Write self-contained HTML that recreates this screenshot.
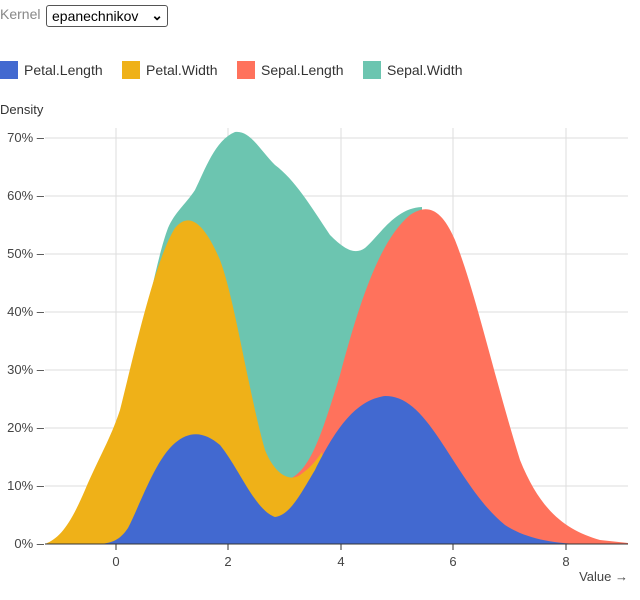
<!DOCTYPE html>
<html><head><style>
body{margin:0;width:640px;height:600px;background:#fff;font-family:"Liberation Sans",sans-serif;overflow:hidden;position:relative}
.k{position:absolute;left:0;top:6px;font-size:14px;color:#888}
.sel{position:absolute;left:46px;top:5px;width:122px;height:22px;border:1px solid #555;border-radius:3px;font-size:14px;color:#000;box-sizing:border-box;padding:2px 5px}
.lg{position:absolute;top:61px;font-size:14px;color:#333}
.lg span{display:inline-block;width:18px;height:18px;vertical-align:-4px;margin-right:6px}
</style></head><body>
<div class="k">Kernel</div>
<div class="sel">epanechnikov <span style="position:absolute;right:4px;top:1px;font-weight:bold">⌄</span></div>
<div class="lg" style="left:0"><span style="background:#4269d0"></span>Petal.Length</div>
<div class="lg" style="left:122px"><span style="background:#efb118"></span>Petal.Width</div>
<div class="lg" style="left:237px"><span style="background:#ff725c"></span>Sepal.Length</div>
<div class="lg" style="left:363px"><span style="background:#6cc5b0"></span>Sepal.Width</div>
<svg width="640" height="600" style="position:absolute;left:0;top:0" font-family="Liberation Sans,sans-serif" font-size="13" fill="#333">
<text x="0" y="114">Density</text>
<g stroke="#ddd">
<line x1="45" x2="628" y1="486" y2="486"/><line x1="45" x2="628" y1="428" y2="428"/><line x1="45" x2="628" y1="370" y2="370"/><line x1="45" x2="628" y1="312" y2="312"/><line x1="45" x2="628" y1="254" y2="254"/><line x1="45" x2="628" y1="196" y2="196"/><line x1="45" x2="628" y1="138" y2="138"/>
<line x1="116" x2="116" y1="128" y2="544"/><line x1="228" x2="228" y1="128" y2="544"/><line x1="341" x2="341" y1="128" y2="544"/><line x1="453" x2="453" y1="128" y2="544"/><line x1="566" x2="566" y1="128" y2="544"/>
</g>
<path fill="#6cc5b0" d="M140,340 C150,300 158,255 168,228 C175,212 185,205 195,190 C205,170 215,140 235,132 C250,130 260,150 275,165 C295,180 310,205 330,235 C345,250 355,255 365,248 C380,235 395,208 422,207 L422,544 L140,544Z"/>
<path fill="#ff725c" d="M288,480 C310,470 320,440 340,375 C360,300 380,240 410,215 C425,205 440,205 455,240 C475,290 495,380 520,460 C540,510 565,530 600,540 L628,543 L628,544 L288,544Z"/>
<path fill="#efb118" d="M45,544 C60,538 70,525 85,490 C100,455 110,440 120,410 C135,350 155,260 175,228 C190,210 205,225 220,260 C235,300 248,390 265,450 C275,475 290,482 300,475 C310,468 315,462 322,452 L330,544Z"/>
<path fill="#4269d0" d="M100,544 C112,543 120,540 128,528 C140,505 155,460 175,443 C190,430 205,432 220,445 C240,470 255,510 275,517 C290,515 300,495 315,470 C335,430 355,400 385,396 C405,396 420,410 440,440 C460,470 480,505 505,525 C525,538 550,543 580,544Z"/>
<line x1="45" x2="628" y1="544" y2="544" stroke="#333"/>
<g text-anchor="end" fill="#444">
<text x="44" y="548">0% –</text><text x="44" y="490">10% –</text><text x="44" y="432">20% –</text><text x="44" y="374">30% –</text><text x="44" y="316">40% –</text><text x="44" y="258">50% –</text><text x="44" y="200">60% –</text><text x="44" y="142">70% –</text>
</g>
<g stroke="#333"><line x1="116" x2="116" y1="544" y2="550"/><line x1="228" x2="228" y1="544" y2="550"/><line x1="341" x2="341" y1="544" y2="550"/><line x1="453" x2="453" y1="544" y2="550"/><line x1="566" x2="566" y1="544" y2="550"/></g>
<g text-anchor="middle" fill="#444"><text x="116" y="566">0</text><text x="228" y="566">2</text><text x="341" y="566">4</text><text x="453" y="566">6</text><text x="566" y="566">8</text></g>
<text x="628" y="581" text-anchor="end" fill="#444">Value →</text>
</svg>
</body></html>
